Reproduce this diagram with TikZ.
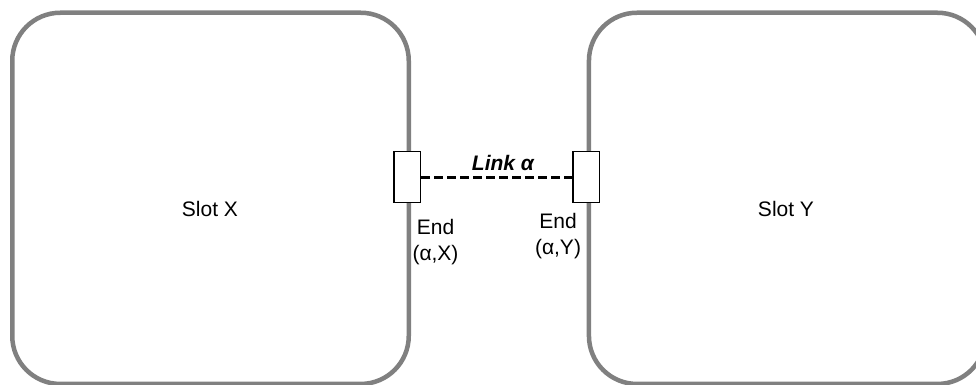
\documentclass[tikz,border=0pt]{standalone}
\usepackage{fontspec}
\setmainfont{Liberation Sans}
\definecolor{slotgray}{HTML}{808080}
\begin{document}
\begin{tikzpicture}[x=1pt,y=-1pt,
  slot/.style={draw=slotgray, line width=4.5pt, rounded corners=48pt,
    minimum width=396.5pt, minimum height=371.2pt, inner sep=0pt, anchor=north west},
  endbox/.style={draw=black, line width=1.3pt, fill=white,
    minimum width=26.5pt, minimum height=51pt, inner sep=0pt},
  lbl/.style={font=\fontsize{21}{26}\selectfont, anchor=base, inner sep=0pt, align=center},
  linkline/.style={draw=black, line width=3pt, dash pattern=on 8.5pt off 4.5pt}
]
\useasboundingbox (0,0) rectangle (976,385);
\clip (0,0) rectangle (976,385);
\fill[white] (0,0) rectangle (976,385);
\node[slot] (slotX) at (10,10.5) {};
\node[slot] (slotY) at (586.7,10.5) {};
\node[lbl] (slotXtext) at (210,216) {Slot X};
\node[lbl] (slotYtext) at (786,216) {Slot Y};
\node[endbox] (endX) at (407.3,177) {};
\node[endbox] (endY) at (586.3,177) {};
\draw[linkline] (endX.east) -- (endY.west);
\node[lbl, font=\fontsize{21}{26}\selectfont\bfseries\itshape] (linktext) at (503,170.7) {Link α};
\node[lbl] (endXtext) at (435.5,260) {End\\(α,X)};
\node[lbl] (endYtext) at (558,254) {End\\(α,Y)};
\end{tikzpicture}
\end{document}
